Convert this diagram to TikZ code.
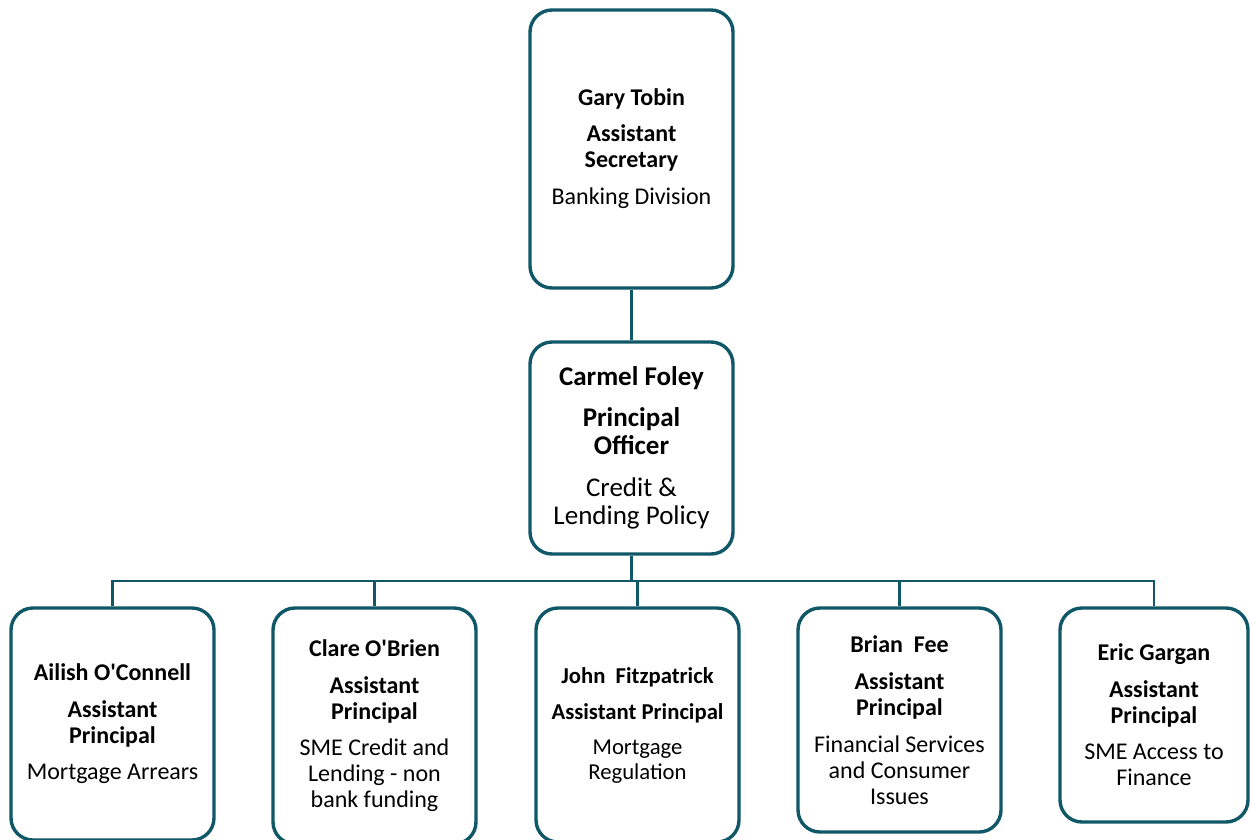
\documentclass[tikz,border=0pt]{standalone}
\usepackage{fontspec}
\setmainfont{Carlito}
\newcommand{\ap}{\textquotesingle}
\begin{document}
\begin{tikzpicture}[x=1pt,y=-1pt,
  card/.style={draw=orgteal, line width=3.4pt, rounded corners=22pt, fill=white,
    minimum width=203pt, inner sep=0pt, align=center, text=black,
    font=\fontsize{24}{26}\selectfont},
  link/.style={draw=orgteal, line width=2.4pt}]
\definecolor{orgteal}{RGB}{16,88,104}
\useasboundingbox (0,0) rectangle (1250,839);
\clip (0,0) rectangle (1250,839);

% senior posts
\node[card, minimum height=278pt] (top) at (631.5,149)
  {\textbf{Gary Tobin}\\[10pt]\textbf{Assistant}\\\textbf{Secretary}\\[11pt]Banking Division};
\node[card, minimum height=212pt, font=\fontsize{27}{28}\selectfont] (mid) at (631.5,448)
  {\textbf{Carmel Foley}\\[13pt]\textbf{Principal}\\\textbf{Officer}\\[14pt]Credit \&\\Lending Policy};

% assistant principals
\node[card, minimum height=232pt] (b1) at (112.5,724)
  {\textbf{Ailish O\ap Connell}\\[11pt]\textbf{Assistant}\\\textbf{Principal}\\[10pt]Mortgage Arrears};
\node[card, minimum height=236pt] (b2) at (374.5,726)
  {\textbf{Clare O\ap Brien}\\[11pt]\textbf{Assistant}\\\textbf{Principal}\\[10pt]SME Credit and\\Lending - non\\bank funding};
\node[card, minimum height=234pt, font=\fontsize{22.7}{25}\selectfont] (b3) at (637.5,725)
  {\textbf{John~ Fitzpatrick}\\[11pt]\textbf{Assistant Principal}\\[10pt]Mortgage\\Regulation};
\node[card, minimum height=224pt] (b4) at (899.5,720)
  {\textbf{Brian~ Fee}\\[11pt]\textbf{Assistant}\\\textbf{Principal}\\[11pt]Financial Services\\and Consumer\\Issues};
\node[card, minimum height=214pt, minimum width=188pt] (b5) at (1154,715)
  {\textbf{Eric Gargan}\\[11pt]\textbf{Assistant}\\\textbf{Principal}\\[10pt]SME Access to\\Finance};

% reporting lines
\coordinate (bus) at (0,581);
\draw[link] (top.south) -- (mid.north);
\draw[link] (mid.south) -- (mid.south |- bus);
\draw[link] (b1.north) -- (b1.north |- bus) -- (b5.north |- bus) -- (b5.north);
\foreach \b in {b2,b3,b4}
  \draw[link] (\b.north) -- (\b.north |- bus);
\end{tikzpicture}
\end{document}
